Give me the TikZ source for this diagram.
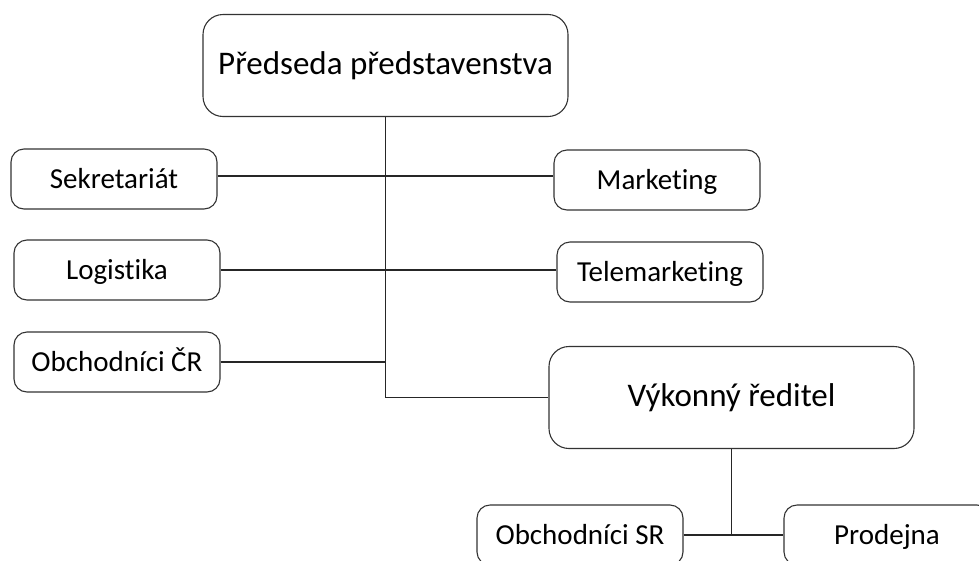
\documentclass[tikz,border=0pt]{standalone}
\usepackage{fontspec}
\setmainfont{Carlito}[Ligatures=NoCommon]
\begin{document}
\begin{tikzpicture}[x=1pt,y=-1pt,
  box/.style={draw=black!80, line width=1.1pt, fill=white, rounded corners=13pt,
    minimum width=206pt, minimum height=60pt, inner sep=0pt,
    text height=22pt, text depth=4pt,
    font=\fontsize{29}{34}\selectfont},
  bigbox/.style={box, rounded corners=20pt, minimum width=365pt, minimum height=102pt,
    text height=24pt, text depth=6pt,
    font=\fontsize{33}{39}\selectfont},
  link/.style={draw=black!85, line width=1.1pt}]
\useasboundingbox (0,0) rectangle (979,560);

% top of the hierarchy
\node[bigbox] (P) at (385.5,65.5) {Předseda představenstva};

% staff units on both sides of the trunk
\node[box] (S)  at (114,179) {Sekretariát};
\node[box] (M)  at (657,180) {Marketing};
\node[box] (L)  at (117,270) {Logistika};
\node[box] (T)  at (660,272) {Telemarketing};
\node[box] (C)  at (117,362) {Obchodníci ČR};

% executive director and its units
\node[bigbox] (V) at (731.5,397.5) {Výkonný ředitel};
\node[box] (SR) at (580,535) {Obchodníci SR};
\node[box] (PR) at (887,535) {Prodejna};

% connectors
\coordinate (trunkEnd) at (P.south |- V.west);
\coordinate (sub) at (V.south |- SR.east);
\path[link] (P.south) -- (trunkEnd) -- (V.west);
\path[link] ([yshift=3pt]S.east) -- ([yshift=3pt]S.east -| M.west);
\path[link] (L.east) -- (L.east -| T.west);
\path[link] (C.east) -- (C.east -| P.south);
\path[link] (V.south) -- (sub);
\path[link] (SR.east) -- (PR.west);
\end{tikzpicture}
\end{document}
